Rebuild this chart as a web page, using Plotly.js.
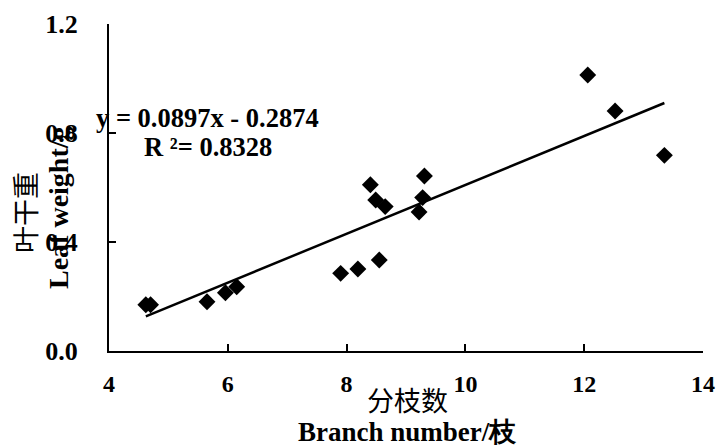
<!DOCTYPE html>
<html><head><meta charset="utf-8">
<script src="https://cdn.plot.ly/plotly-3.0.1.min.js"></script>
<style>html,body{margin:0;padding:0;background:#fff}#chart{width:717px;height:447px}</style>
</head><body><div id="chart"></div>
<script>
var branchNumber = [4.62, 4.70, 5.65, 5.96, 6.15, 7.90, 8.19, 8.55, 8.40, 8.49, 8.65, 9.22, 9.28, 9.31, 13.35, 12.06, 12.52];
var leafWeight   = [0.170, 0.170, 0.181, 0.214, 0.236, 0.285, 0.301, 0.334, 0.610, 0.554, 0.530, 0.510, 0.563, 0.642, 0.718, 1.013, 0.881];
var slope = 0.0897, intercept = -0.2874;
var xTicks = [4, 6, 8, 10, 12, 14];
var yTicks = [0.0, 0.4, 0.8, 1.2];
var yTickText = ['0.0', '0.4', '0.8', '1.2'];

var xMin = Math.min.apply(null, branchNumber), xMax = Math.max.apply(null, branchNumber);
var trendX = [xMin, xMax];
var trendY = trendX.map(function(v){ return slope * v + intercept; });

var serif = 'Liberation Serif, Times New Roman, serif';
var cjk = 'Noto Sans CJK SC, sans-serif';

var M = {l: 109, r: 14, t: 24, b: 96};
var W = 717 - M.l - M.r, H = 447 - M.t - M.b;
function px(x){ return (x - M.l) / W; }
function py(y){ return (447 - M.b - y) / H; }

var data = [
  {x: trendX, y: trendY, mode: 'lines', type: 'scatter', line: {color: '#000', width: 2.5}, hoverinfo: 'skip'},
  {x: branchNumber, y: leafWeight, mode: 'markers', type: 'scatter',
   marker: {symbol: 'diamond', size: 13, color: '#000'}}
];

var layout = {
  width: 717, height: 447,
  margin: M,
  showlegend: false,
  paper_bgcolor: '#fff', plot_bgcolor: '#fff',
  xaxis: {range: [4, 14], tickvals: xTicks, ticks: 'inside', ticklen: 7, tickwidth: 2, tickcolor: '#000',
          showline: true, linecolor: '#000', linewidth: 2, showgrid: false, zeroline: false,
          ticklabelstandoff: 10, ticklabeloverflow: 'allow',
          tickfont: {family: serif, size: 24, color: '#000', weight: 'bold'}},
  yaxis: {range: [0, 1.2], tickvals: yTicks, ticktext: yTickText, ticks: 'inside', ticklen: 7, tickwidth: 2, tickcolor: '#000',
          showline: true, linecolor: '#000', linewidth: 2, showgrid: false, zeroline: false,
          ticklabelstandoff: 24, ticklabeloverflow: 'allow',
          tickfont: {family: serif, size: 26, color: '#000', weight: 'bold'}},
  annotations: [
    {text: '<b>y = 0.0897x - 0.2874</b>', xref: 'paper', yref: 'paper', x: px(207), y: py(118),
     xanchor: 'center', yanchor: 'middle', showarrow: false, font: {family: serif, size: 26.5, color: '#000'}},
    {text: '<b>R ²= 0.8328</b>', xref: 'paper', yref: 'paper', x: px(208), y: py(147),
     xanchor: 'center', yanchor: 'middle', showarrow: false, font: {family: serif, size: 26.5, color: '#000'}},
    {text: '分枝数', xref: 'paper', yref: 'paper', x: px(407), y: py(399),
     xanchor: 'center', yanchor: 'middle', showarrow: false, font: {family: cjk, size: 27, color: '#000'}},
    {text: '<b>Branch number/枝</b>', xref: 'paper', yref: 'paper', x: px(407), y: py(432),
     xanchor: 'center', yanchor: 'middle', showarrow: false, font: {family: serif, size: 27, color: '#000'}},
    {text: '叶干重', xref: 'paper', yref: 'paper', x: px(24), y: py(213), textangle: -90,
     xanchor: 'center', yanchor: 'middle', showarrow: false, font: {family: cjk, size: 27, color: '#000'}},
    {text: '<b>Leaf weight/g</b>', xref: 'paper', yref: 'paper', x: px(58), y: py(208), textangle: -90,
     xanchor: 'center', yanchor: 'middle', showarrow: false, font: {family: serif, size: 28, color: '#000'}}
  ]
};
Plotly.newPlot('chart', data, layout, {displayModeBar: false, staticPlot: true});
</script></body></html>
